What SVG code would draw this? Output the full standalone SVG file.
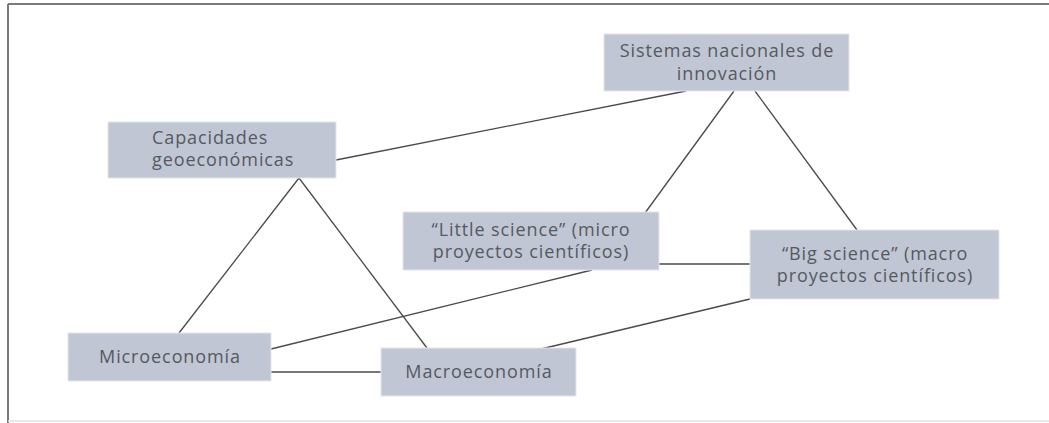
<svg xmlns="http://www.w3.org/2000/svg" width="1049" height="423" viewBox="0 0 1049 423">
<style>
.box{fill:#c1c6d4;stroke:#e4e6ee;stroke-width:1}
.t{font-family:"Open Sans","Liberation Sans",sans-serif;font-size:18px;letter-spacing:0.9px;fill:#555a60}
.c{stroke:#4a4a4a;stroke-width:1.3;fill:none}
.frame{stroke:#7a7a7e;stroke-width:2;fill:none}
</style>
<rect x="0" y="0" width="1049" height="423" fill="#ffffff"/>
<g id="frame">
<line class="frame" x1="8" y1="4" x2="1049" y2="4"/>
<line class="frame" x1="8" y1="4" x2="8" y2="423"/>
<line x1="8" y1="421" x2="1049" y2="421" stroke="#e2e2e6" stroke-width="1.5"/>
</g>
<g id="connectors">
<line class="c" x1="686" y1="91" x2="336" y2="160"/>
<line class="c" x1="734" y1="91" x2="645" y2="213"/>
<line class="c" x1="755" y1="91" x2="857" y2="230"/>
<line class="c" x1="299" y1="178" x2="179" y2="333"/>
<line class="c" x1="299" y1="178" x2="427" y2="348"/>
<line class="c" x1="592" y1="270" x2="271" y2="349"/>
<line class="c" x1="659" y1="264" x2="750" y2="264"/>
<line class="c" x1="750" y1="299" x2="541" y2="349"/>
<line class="c" x1="271" y1="372" x2="381" y2="372"/>
</g>
<g id="sistemas">
<rect class="box" x="604" y="34" width="245" height="57"/>
<text class="t" x="727" y="57" text-anchor="middle">Sistemas nacionales de</text>
<text class="t" x="727" y="80" text-anchor="middle">innovación</text>
</g>
<g id="capacidades">
<rect class="box" x="108" y="122" width="228" height="56"/>
<text class="t" x="152" y="144">Capacidades</text>
<text class="t" x="152" y="166">geoeconómicas</text>
</g>
<g id="little">
<rect class="box" x="403" y="212" width="256" height="58"/>
<text class="t" x="531" y="236" text-anchor="middle">“Little science” (micro</text>
<text class="t" x="531" y="258" text-anchor="middle">proyectos científicos)</text>
</g>
<g id="big">
<rect class="box" x="750" y="230" width="249" height="69"/>
<text class="t" x="875" y="260" text-anchor="middle">“Big science” (macro</text>
<text class="t" x="875" y="282" text-anchor="middle">proyectos científicos)</text>
</g>
<g id="micro">
<rect class="box" x="68" y="333" width="203" height="48"/>
<text class="t" x="170" y="363" text-anchor="middle">Microeconomía</text>
</g>
<g id="macro">
<rect class="box" x="381" y="348" width="195" height="48"/>
<text class="t" x="479" y="378" text-anchor="middle">Macroeconomía</text>
</g>
</svg>
